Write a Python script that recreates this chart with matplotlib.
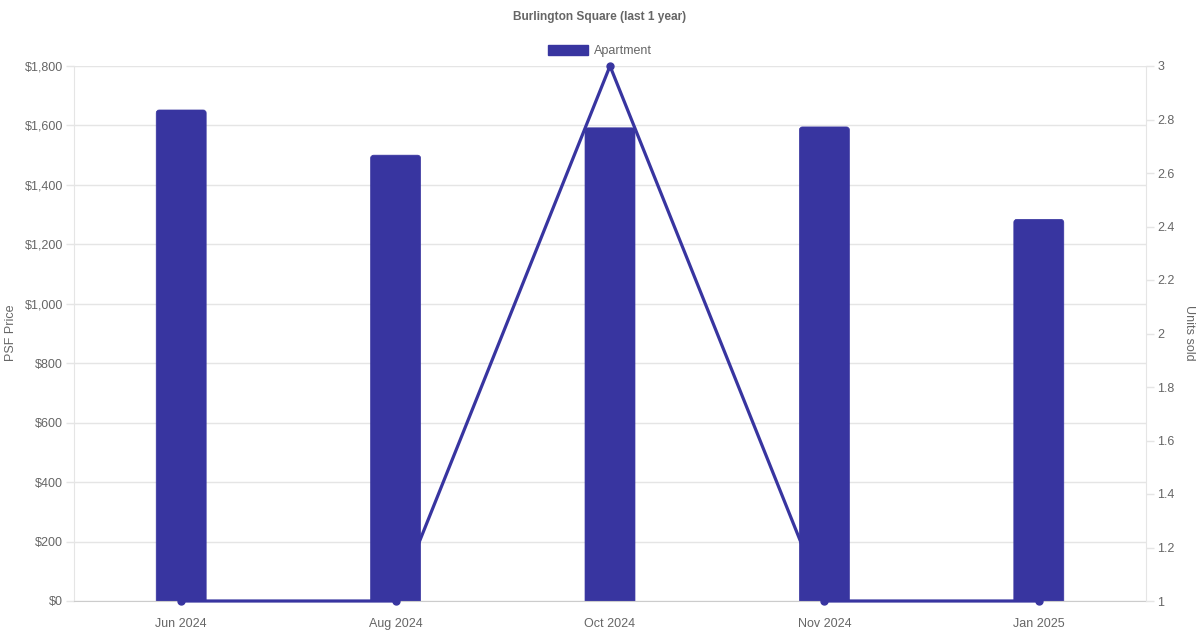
import matplotlib
matplotlib.use("Agg")
import matplotlib.pyplot as plt
from matplotlib.patches import FancyBboxPatch, Patch
from matplotlib.ticker import FuncFormatter

plt.rcParams['font.family'] = ['Liberation Sans', 'DejaVu Sans']

categories = ["Jun 2024", "Aug 2024", "Oct 2024", "Nov 2024", "Jan 2025"]
psf_price = [1652, 1500, 1592, 1595, 1284]
units_sold = [1, 1, 3, 1, 1]

color = '#3835A0'
grid_c = '#e5e5e5'
text_c = '#666666'

W, H = 1200, 630
fig = plt.figure(figsize=(W / 100, H / 100), dpi=100)
x0, x1, y0, y1 = 74, 1146, 601, 66
ax = fig.add_axes([x0 / W, 1 - y0 / H, (x1 - x0) / W, (y0 - y1) / H])
ax2 = ax.twinx()

xs = list(range(len(categories)))
ax.set_xlim(-0.5, len(categories) - 0.5)
ax.set_ylim(0, 1800)
ax2.set_ylim(1, 3)

bw = 0.233
px_x = (len(categories)) / (x1 - x0)
px_y = 1800 / (y0 - y1)
r = 3 * px_x
for xi, v in zip(xs, psf_price):
    p = FancyBboxPatch((xi - bw / 2, -30), bw, v + 30,
                       boxstyle=f"round,pad=0,rounding_size={r}",
                       mutation_aspect=px_y / px_x,
                       facecolor=color, edgecolor=color, linewidth=0.5, zorder=2)
    ax.add_patch(p)

ax.set_yticks(range(0, 1801, 200))
ax.yaxis.set_major_formatter(FuncFormatter(lambda v, p: f"${int(v):,}"))
ax.grid(axis='y', color=grid_c, linewidth=1, zorder=0)
ax.set_axisbelow(True)
ax.set_xticks(xs)
ax.set_xticklabels(categories)
ax.tick_params(axis='x', length=0, pad=12, labelsize=9, labelcolor=text_c)
ax.tick_params(axis='y', length=5.5, width=1, color=grid_c, pad=2.5, labelsize=9, labelcolor=text_c)
for s in ['top', 'right']:
    ax.spines[s].set_visible(False)
ax.spines['left'].set_color(grid_c)
ax.spines['bottom'].set_color('#cccccc')

ax2.plot(xs, units_sold, color=color, linewidth=2.3, marker='o', markersize=5,
         clip_on=False, zorder=5)
ax2.set_yticks([1, 1.2, 1.4, 1.6, 1.8, 2, 2.2, 2.4, 2.6, 2.8, 3])
ax2.yaxis.set_major_formatter(FuncFormatter(lambda v, p: f"{v:g}"))
ax2.tick_params(axis='y', length=5.5, width=1, color=grid_c, pad=2.5, labelsize=9, labelcolor=text_c)
for s in ['top', 'left', 'bottom']:
    ax2.spines[s].set_visible(False)
ax2.spines['right'].set_color(grid_c)

fig.text(11 / W, 1 - 333 / H, "PSF Price", rotation=90, ha='center', va='center',
         fontsize=9, color=text_c)
fig.text(1189 / W, 1 - 333 / H, "Units sold", rotation=-90, ha='center', va='center',
         fontsize=9, color=text_c)

fig.text(0.5, 1 - 17 / H, "Burlington Square (last 1 year)", ha='center', va='center',
         fontsize=8.6, fontweight='bold', color=text_c)
handle = Patch(facecolor=color, edgecolor=color)
fig.legend([handle], ["Apartment"], loc='center', bbox_to_anchor=(0.5, 1 - 51 / H),
           frameon=False, fontsize=9, labelcolor=text_c, handlelength=3.2,
           handleheight=0.8, handletextpad=0.5)

fig.savefig("out.png", dpi=100)
